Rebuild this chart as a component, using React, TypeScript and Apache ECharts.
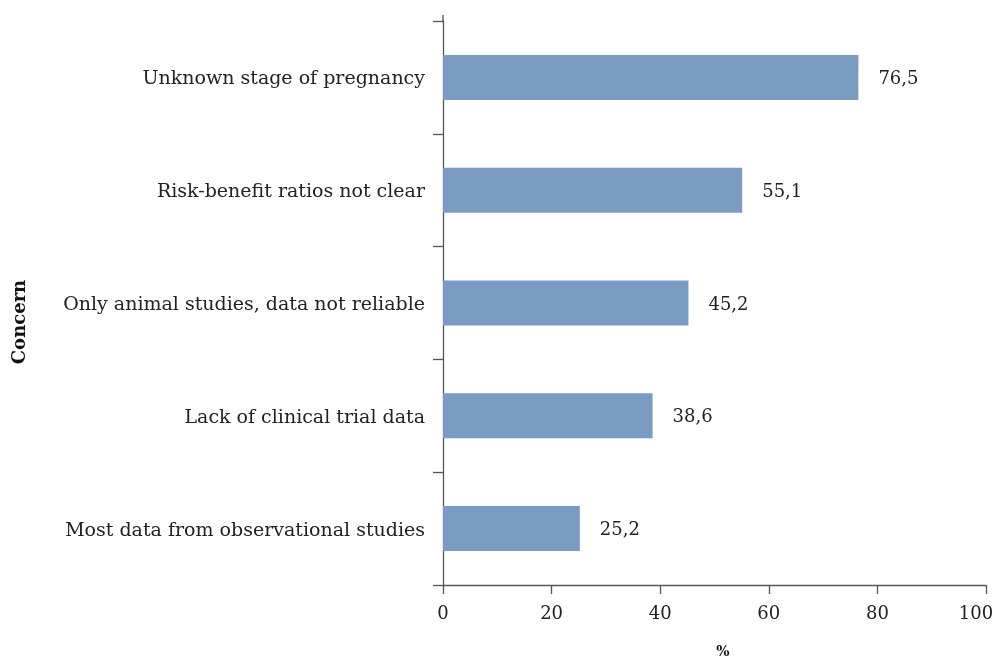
import React, { useEffect, useRef } from "react";
import * as echarts from "echarts";

const categories = [
  "Unknown stage of pregnancy",
  "Risk-benefit ratios not clear",
  "Only animal studies, data not reliable",
  "Lack of clinical trial data",
  "Most data from observational studies",
];
const values = [76.5, 55.1, 45.2, 38.6, 25.2];
const xTicks = [0, 20, 40, 60, 80, 100];
const xTitle = "%";
const yTitle = "Concern";

const FONT = "DejaVu Serif";
const AXIS = "#555";

export default function App() {
  const ref = useRef<HTMLDivElement>(null);
  useEffect(() => {
    const chart = echarts.init(ref.current!, undefined, { renderer: "svg" });
    const maxTick = xTicks[xTicks.length - 1];
    chart.setOption({
      animation: false,
      grid: {
        left: 443,
        right: 9,
        top: 21,
        bottom: 74,
        containLabel: false,
        outerBoundsMode: "none",
      },
      xAxis: {
        type: "value",
        min: xTicks[0],
        max: maxTick,
        interval: 20,
        axisLine: { show: true, lineStyle: { color: AXIS, width: 1.3 } },
        axisTick: { show: true, length: 9, lineStyle: { color: AXIS, width: 1.3 } },
        axisLabel: {
          fontFamily: FONT,
          fontSize: 18,
          color: "#222",
          margin: 18,
          formatter: (v: number) => (v === maxTick ? `{r|${v}}` : `${v}`),
          rich: {
            r: { fontFamily: FONT, fontSize: 18, color: "#222", padding: [0, 20, 0, 0] },
          },
        },
        splitLine: { show: false },
      },
      yAxis: {
        type: "category",
        data: categories,
        inverse: true,
        axisLine: { show: true, lineStyle: { color: AXIS, width: 1.3 } },
        axisTick: { show: true, length: 10, alignWithLabel: false, lineStyle: { color: AXIS, width: 1.3 } },
        axisLabel: { fontFamily: FONT, fontSize: 19, color: "#222", margin: 18 },
        splitLine: { show: false },
      },
      graphic: [
        {
          type: "line",
          shape: { x1: 443, y1: 15, x2: 443, y2: 21 },
          style: { stroke: AXIS, lineWidth: 1.3 },
        },
        {
          type: "text",
          x: 18,
          y: 322,
          rotation: Math.PI / 2,
          style: {
            text: yTitle,
            fontFamily: FONT,
            fontWeight: "bold",
            fontSize: 18,
            fill: "#111",
            align: "center",
            verticalAlign: "middle",
          },
        },
        {
          type: "text",
          x: 723,
          y: 651,
          style: {
            text: xTitle,
            fontFamily: FONT,
            fontWeight: "bold",
            fontSize: 14,
            fill: "#111",
            align: "center",
            verticalAlign: "middle",
          },
        },
      ],
      series: [
        {
          type: "bar",
          data: values,
          barWidth: 45,
          itemStyle: { color: "#7a9cc3" },
          label: {
            show: true,
            position: "right",
            distance: 20,
            fontFamily: FONT,
            fontSize: 18,
            color: "#222",
            formatter: (p: any) => p.value.toFixed(1).replace(".", ","),
          },
        },
      ],
    });
    return () => chart.dispose();
  }, []);
  return (
    <div
      ref={ref}
      style={{ position: "fixed", left: 0, top: 0, width: 995, height: 659 }}
    />
  );
}
